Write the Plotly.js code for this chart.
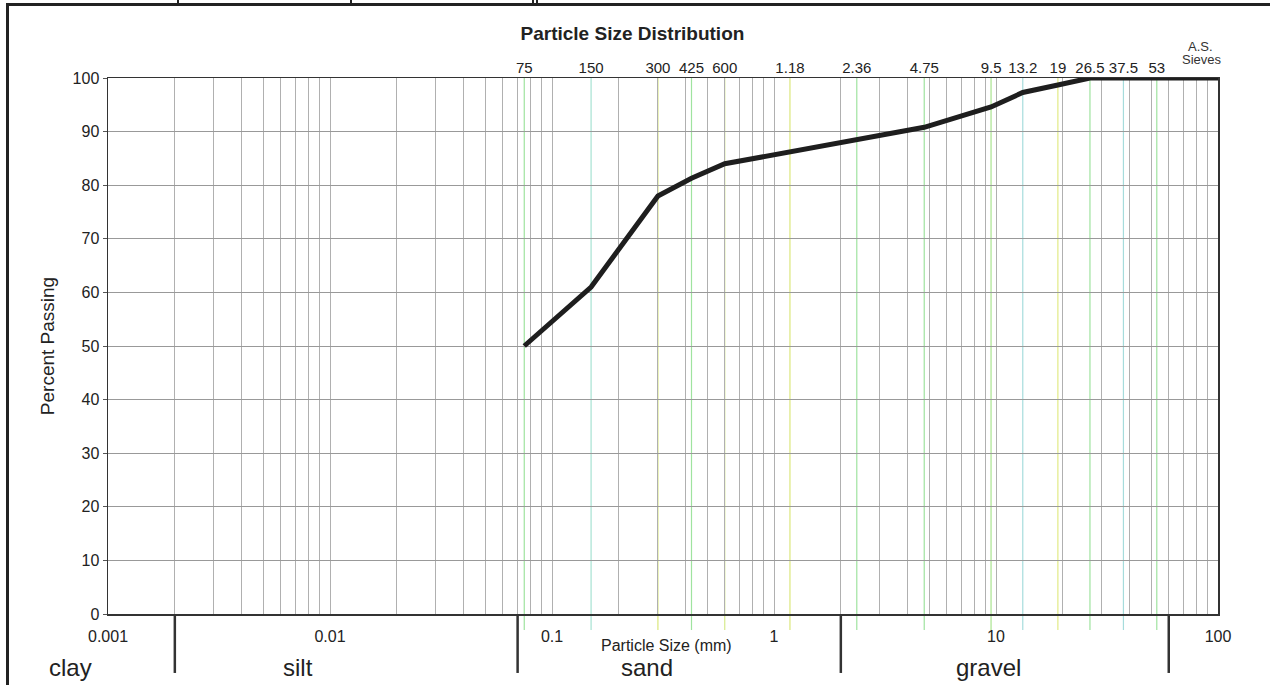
<!DOCTYPE html>
<html>
<head>
<meta charset="utf-8">
<script src="https://cdn.plot.ly/plotly-3.0.1.min.js"></script>
<style>
  html, body { margin: 0; padding: 0; background: #fff; }
  #wrap { position: relative; width: 1270px; height: 685px; overflow: hidden; background: #fff; }
  #chart { position: absolute; left: 0; top: 0; width: 1270px; height: 685px; }
  .bl { position: absolute; background: #222; }
</style>
</head>
<body>
<div id="wrap">
  <div id="chart"></div>
  <div class="bl" style="left:7px; top:3px; width:1263px; height:3px;"></div>
  <div class="bl" style="left:6px; top:3px; width:3px; height:682px;"></div>
  <div class="bl" style="left:177px; top:0px; width:2px; height:5px;"></div>
  <div class="bl" style="left:350px; top:0px; width:2px; height:5px;"></div>
  <div class="bl" style="left:532px; top:0px; width:2px; height:5px;"></div>
  <div class="bl" style="left:536px; top:0px; width:2px; height:5px;"></div>
</div>
<script>
// ---- data ----
const particleSize = [0.075, 0.15, 0.3, 0.425, 0.6, 1.18, 2.36, 4.75, 9.5, 13.2, 19, 26.5, 37.5, 53, 100];
const percentPassing = [50, 61, 78, 81.3, 84, 86.2, 88.4, 90.8, 94.6, 97.3, 98.7, 100, 100, 100, 100];

const sieveSizes = [0.075, 0.15, 0.3, 0.425, 0.6, 1.18, 2.36, 4.75, 9.5, 13.2, 19, 26.5, 37.5, 53];
const sieveLabels = ['75', '150', '300', '425', '600', '1.18', '2.36', '4.75', '9.5', '13.2', '19', '26.5', '37.5', '53'];
const sieveColors = ['#9fe39f', '#a6e2d2', '#dbe77c', '#9fe39f', '#d6ea8c', '#dbe77c', '#9fe39f', '#9fe39f',
                     '#a9e38f', '#a6dcdc', '#e2ea86', '#9fe39f', '#a6dcdc', '#9fe39f'];

const decadeVals = [0.001, 0.01, 0.1, 1, 10, 100];
const decadeLabels = ['0.001', '0.01', '0.1', '1', '10', '100'];

const soilBoundaries = [0.002, 0.07, 2, 60];
const soilNames = ['clay', 'silt', 'sand', 'gravel'];

const yTicks = [0, 10, 20, 30, 40, 50, 60, 70, 80, 90, 100];

// ---- build grid ticks (1..9 x each decade) ----
const gridVals = [];
const gridText = [];
for (let e = -3; e <= 2; e++) {
  for (let m = 1; m <= 9; m++) {
    if (e === 2 && m > 1) break;
    const v = +(m * Math.pow(10, e)).toPrecision(6);
    gridVals.push(v);
    const di = decadeVals.findIndex(d => Math.abs(d - v) < 1e-9);
    gridText.push(di >= 0 ? decadeLabels[di] : '');
  }
}

const FONT = 'Liberation Sans, Arial, Helvetica, sans-serif';

const shapes = [];
sieveSizes.forEach((s, i) => {
  shapes.push({
    type: 'line', xref: 'x', yref: 'paper', x0: s, x1: s, y0: -0.03, y1: 1,
    line: { color: sieveColors[i], width: 1.2 }, layer: 'below'
  });
});
soilBoundaries.forEach(b => {
  shapes.push({
    type: 'line', xref: 'x', yref: 'paper', x0: b, x1: b, y0: 0, y1: -0.11,
    line: { color: '#333', width: 2.5 }
  });
});

const soilLabelX = [-0.034, 0.171, 0.486, 0.793];
const annotations = soilNames.map((n, i) => ({
  text: n, xref: 'paper', yref: 'paper', x: soilLabelX[i], y: -0.099,
  xanchor: 'center', yanchor: 'middle', showarrow: false,
  font: { family: FONT, size: 24, color: '#222' }
}));
annotations.push({
  text: 'Particle Size (mm)', xref: 'paper', yref: 'paper', x: 0.503, y: -0.058,
  xanchor: 'center', yanchor: 'middle', showarrow: false,
  font: { family: FONT, size: 16, color: '#222' }
});
annotations.push({
  text: 'A.S.', xref: 'paper', yref: 'paper', x: 0.984, y: 1.058,
  xanchor: 'center', yanchor: 'middle', showarrow: false,
  font: { family: FONT, size: 13, color: '#333' }
});
annotations.push({
  text: 'Sieves', xref: 'paper', yref: 'paper', x: 0.986, y: 1.035,
  xanchor: 'center', yanchor: 'middle', showarrow: false,
  font: { family: FONT, size: 13, color: '#333' }
});

const traces = [
  {
    x: particleSize, y: percentPassing, type: 'scatter', mode: 'lines',
    line: { color: '#1e1e1e', width: 5 }, hoverinfo: 'x+y', showlegend: false
  },
  {
    x: sieveSizes, y: sieveSizes.map(() => null), xaxis: 'x2', yaxis: 'y',
    type: 'scatter', mode: 'lines', showlegend: false, hoverinfo: 'skip'
  }
];

const layout = {
  width: 1270, height: 685, autosize: false,
  margin: { l: 108, r: 52, t: 78, b: 71, pad: 0 },
  paper_bgcolor: 'rgba(0,0,0,0)', plot_bgcolor: '#fff',
  showlegend: false,
  title: {
    text: '<b>Particle Size Distribution</b>', xref: 'container', x: 0.498,
    yref: 'container', y: 0.952, xanchor: 'center', yanchor: 'middle',
    font: { family: FONT, size: 19, color: '#222' }
  },
  xaxis: {
    type: 'log', range: [-3, 2], tickmode: 'array', tickvals: gridVals, ticktext: gridText,
    showgrid: true, gridcolor: '#b0b0b0', gridwidth: 1, zeroline: false,
    showline: true, linecolor: '#333', linewidth: 1.5, mirror: true,
    ticks: '', ticklabelstandoff: 7,
    tickfont: { family: FONT, size: 16, color: '#222' }
  },
  xaxis2: {
    type: 'log', range: [-3, 2], overlaying: 'x', side: 'top', anchor: 'y',
    tickmode: 'array', tickvals: sieveSizes, ticktext: sieveLabels,
    showgrid: false, showline: false, zeroline: false, ticks: '', ticklabelstandoff: 1,
    tickfont: { family: FONT, size: 15, color: '#222' }
  },
  yaxis: {
    range: [0, 100], tickmode: 'array', tickvals: yTicks,
    showgrid: true, gridcolor: '#999', gridwidth: 1, zeroline: false,
    showline: true, linecolor: '#333', linewidth: 1.5, mirror: true,
    ticks: 'outside', ticklen: 4, tickcolor: '#555', tickwidth: 1,
    tickfont: { family: FONT, size: 16, color: '#222' },
    title: { text: 'Percent Passing', standoff: 13, font: { family: FONT, size: 19, color: '#222' } }
  },
  shapes: shapes,
  annotations: annotations
};

Plotly.newPlot('chart', traces, layout, { displayModeBar: false, staticPlot: true });
</script>
</body>
</html>
